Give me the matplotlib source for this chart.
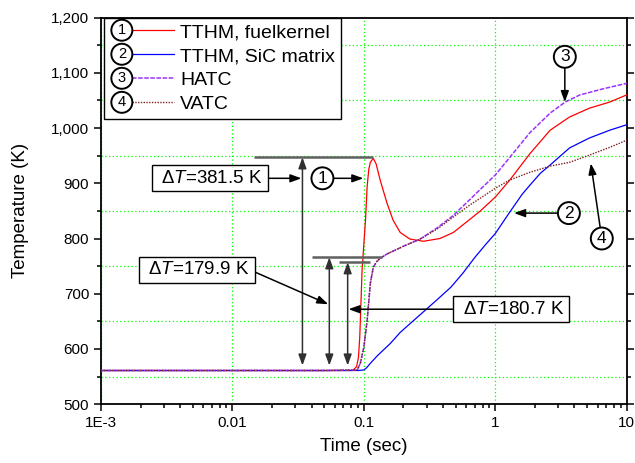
import matplotlib
matplotlib.use("Agg")
import matplotlib.pyplot as plt
from matplotlib.legend_handler import HandlerBase
from matplotlib.patches import Ellipse
from matplotlib.lines import Line2D
from matplotlib.text import Text
from matplotlib.ticker import (FixedLocator, FixedFormatter, LogLocator,
                               MultipleLocator, NullFormatter, FuncFormatter)

plt.rcParams['font.family'] = ['Liberation Sans', 'DejaVu Sans']
plt.rcParams['mathtext.fontset'] = 'custom'
plt.rcParams['mathtext.rm'] = 'Liberation Sans'
plt.rcParams['mathtext.it'] = 'Liberation Sans:italic'

# --- curves (time in s, temperature in K) ---
t_fuel = [0.001, 0.01, 0.05, 0.079, 0.083, 0.088, 0.091, 0.093, 0.094, 0.097,
          0.1, 0.103, 0.106, 0.109, 0.112, 0.118, 0.124, 0.133, 0.15, 0.167,
          0.189, 0.224, 0.284, 0.379, 0.48, 0.643, 0.77, 1.0, 1.29, 1.84,
          2.61, 3.67, 5.2, 7.4, 10]
T_fuel = [561, 561, 561, 561, 562, 568, 585, 620, 650, 745,
          790, 835, 895, 925, 938, 945, 935, 906, 864, 833,
          811, 799, 795, 800, 811, 835, 850, 875, 906, 954,
          996, 1020, 1036, 1047, 1060]

t_sic = [0.001, 0.01, 0.05, 0.09, 0.1, 0.105, 0.112, 0.127, 0.159, 0.189,
         0.23, 0.28, 0.36, 0.46, 0.57, 0.7, 0.85, 1.0, 1.29, 1.6,
         1.84, 2.2, 2.61, 3.67, 5.2, 7.4, 10]
T_sic = [561, 561, 561, 561, 562, 566, 574, 588, 610, 630,
         648, 666, 689, 712, 738, 766, 790, 809, 848, 880,
         897, 918, 933, 964, 982, 996, 1006]

t_hatc = [0.001, 0.01, 0.05, 0.089, 0.094, 0.1, 0.106, 0.112, 0.118, 0.125,
          0.133, 0.15, 0.2, 0.268, 0.36, 0.48, 0.643, 0.77, 1.0, 1.29,
          1.84, 2.61, 3.4, 4.4, 6.6, 10]
T_hatc = [561, 561, 561, 562, 574, 603, 652, 719, 748, 758,
          764, 772, 786, 799, 819, 842, 871, 889, 915, 947,
          992, 1027, 1047, 1060, 1071, 1081]

t_vatc = [0.001, 0.01, 0.05, 0.089, 0.094, 0.1, 0.106, 0.112, 0.118, 0.125,
          0.133, 0.15, 0.2, 0.268, 0.36, 0.48, 0.643, 0.77, 1.0, 1.29,
          1.84, 2.61, 3.67, 5.2, 7.4, 10]
T_vatc = [561, 561, 561, 562, 574, 603, 652, 719, 748, 758,
          764, 772, 786, 799, 817, 839, 861, 873, 891, 906,
          920, 931, 938, 951, 965, 978]

series_names = ['TTHM, fuelkernel', 'TTHM, SiC matrix', 'HATC', 'VATC']
series_nums = ['1', '2', '3', '4']

x_ticks = [0.001, 0.01, 0.1, 1, 10]
x_tick_labels = ['1E-3', '0.01', '0.1', '1', '10']

# --- Delta T brackets ---
T_base = 570
dt_labels = ['381.5', '179.9', '180.7']
dt_levels = [947, 766, 757]
dt_line_x = [(0.0145, 0.118), (0.040, 0.138), (0.0651, 0.112)]
dt_arrow_x = [0.0341, 0.0546, 0.0753]
dt_box = [(0.00671, 909), (0.00536, 743), (1.317, 672)]
dt_tip = [(0.0335, 909), (0.0536, 681), (0.0765, 672)]
dt_relpos = [(1, 0.5), (1, 0.5), (0, 0.5)]

# circled curve labels
circ_pos = [(0.0484, 909), (3.63, 846), (3.38, 1129), (6.46, 800)]
circ_tip = [(0.0991, 909), (1.39, 846), (3.38, 1047), (5.33, 936)]


class CircledLine(HandlerBase):
    # legend handle: circled number followed by a short line sample
    def __init__(self, num):
        super().__init__()
        self.num = num

    def create_artists(self, legend, orig_handle, xdescent, ydescent,
                       width, height, fontsize, trans):
        r = 0.54 * fontsize
        cx = -xdescent + r + 1
        cy = -ydescent + height / 2
        circ = Ellipse((cx, cy), 2 * r, 2 * r, fill=False, lw=1.4,
                       ec='black', transform=trans)
        txt = Text(cx, cy, self.num, ha='center', va='center',
                   fontsize=10.5, transform=trans)
        line = Line2D([cx + r, -xdescent + width], [cy, cy])
        line.update_from(orig_handle)
        line.set_transform(trans)
        return [line, circ, txt]


fig = plt.figure(figsize=(6.35, 4.63), dpi=100)
ax = fig.add_axes([0.159, 0.127, 0.828, 0.835])

l1, = ax.plot(t_fuel, T_fuel, color='#FF0000', lw=0.9, zorder=3)
l2, = ax.plot(t_sic, T_sic, color='#0000FF', lw=0.9, zorder=3)
l3, = ax.plot(t_hatc, T_hatc, color='#9933FF', lw=1.1, ls=(0, (3, 1)), zorder=3)
l4, = ax.plot(t_vatc, T_vatc, color='#802020', lw=1.0, ls=(0, (1, 1)), zorder=3)

ax.set_xscale('log')
ax.set_xlim(1e-3, 10)
ax.set_ylim(500, 1200)
ax.xaxis.set_major_locator(FixedLocator(x_ticks))
ax.xaxis.set_major_formatter(FixedFormatter(x_tick_labels))
ax.xaxis.set_minor_locator(LogLocator(base=10, subs=range(2, 10)))
ax.xaxis.set_minor_formatter(NullFormatter())
ax.yaxis.set_major_locator(MultipleLocator(100))
ax.yaxis.set_minor_locator(MultipleLocator(50))
ax.yaxis.set_major_formatter(FuncFormatter(lambda v, p: '{:,.0f}'.format(v)))

green = dict(color='#00FF00', ls=(0, (1, 2)), lw=0.9)
ax.grid(True, which='major', axis='x', **green)
ax.grid(True, which='minor', axis='y', **green)

ax.tick_params(which='both', direction='out', right=True, top=False,
               labelsize=11, width=1.1)
ax.tick_params(which='major', length=5)
ax.tick_params(which='minor', length=3)
for s in ax.spines.values():
    s.set_linewidth(1.3)

ax.set_xlabel('Time (sec)', fontsize=13.5, labelpad=6)
ax.set_ylabel('Temperature (K)', fontsize=13.5, labelpad=16)

# Delta T brackets
for i in range(3):
    ax.hlines(dt_levels[i], dt_line_x[i][0], dt_line_x[i][1],
              color='#606060', lw=1.8, zorder=4)
    ax.annotate('', xy=(dt_arrow_x[i], T_base), xytext=(dt_arrow_x[i], dt_levels[i]),
                arrowprops=dict(arrowstyle='<|-|>,head_length=0.55,head_width=0.2',
                                color='#303030', lw=1.1, mutation_scale=12,
                                shrinkA=0, shrinkB=0), zorder=5)
    ax.annotate(' Δ$\\mathit{T}$=' + dt_labels[i] + ' K ', xy=dt_tip[i], xytext=dt_box[i],
                ha='center', va='center', fontsize=13.5, zorder=6,
                bbox=dict(boxstyle='square,pad=0.25', fc='white', ec='black', lw=1),
                arrowprops=dict(arrowstyle='-|>,head_length=0.55,head_width=0.2',
                                color='black', lw=1.1, mutation_scale=12,
                                shrinkA=0, shrinkB=0, relpos=dt_relpos[i]))

# circled numbers pointing at curves
for num, pos, tip in zip(series_nums, circ_pos, circ_tip):
    ax.annotate(num, xy=tip, xytext=pos, ha='center', va='center', fontsize=12.5,
                zorder=6,
                bbox=dict(boxstyle='circle,pad=0.2', fc='white', ec='black', lw=1.4),
                arrowprops=dict(arrowstyle='-|>,head_length=0.55,head_width=0.2',
                                color='black', lw=1.1, mutation_scale=12,
                                shrinkA=0, shrinkB=0))

lines = [l1, l2, l3, l4]
leg = ax.legend(lines, series_names, loc='upper left', bbox_to_anchor=(0.006, 1.0),
                borderaxespad=0, fontsize=14, frameon=True, fancybox=False,
                edgecolor='black', framealpha=1, handlelength=3.3,
                handletextpad=0.3, labelspacing=0.33, borderpad=0.3,
                handler_map={ln: CircledLine(n) for ln, n in zip(lines, series_nums)})
leg.get_frame().set_linewidth(1.0)
leg.set_zorder(7)

fig.savefig('out.png', dpi=100)
